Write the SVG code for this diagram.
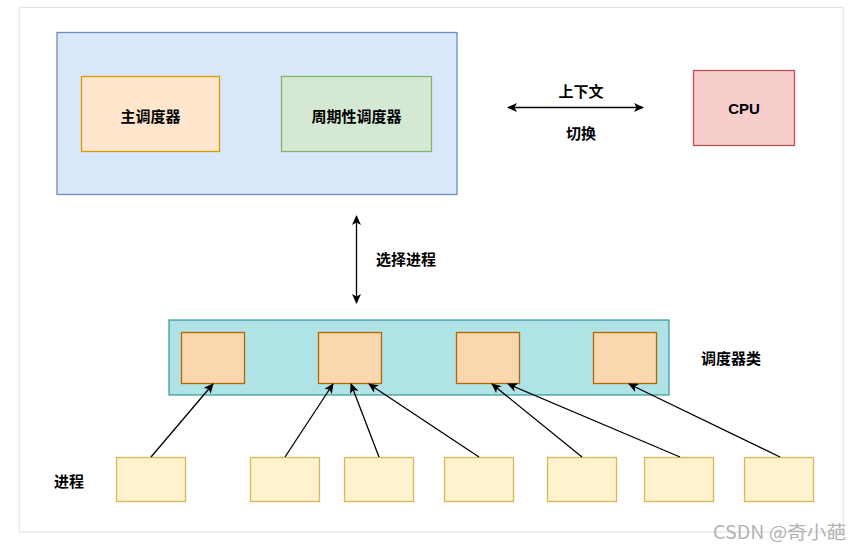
<svg xmlns="http://www.w3.org/2000/svg" width="862" height="548" viewBox="0 0 862 548">
<defs>
<style>
.lbl{font-family:"Noto Sans CJK SC","Liberation Sans",sans-serif;font-size:15px;font-weight:bold;fill:#000;text-anchor:middle;dominant-baseline:central}
.con{stroke:#000;stroke-width:1.3;fill:none}
.slot{fill:#fad7ac;stroke:#b46504;stroke-width:1.3}
.proc{fill:#fff2cc;stroke:#d6b656;stroke-width:1.3}
</style>
<marker id="ah" viewBox="0 0 10 9" refX="9" refY="4.5" markerWidth="10" markerHeight="9" markerUnits="userSpaceOnUse" orient="auto-start-reverse">
<path d="M0,0 L10,4.5 L0,9 L2.5,4.5 Z" fill="#000"/>
</marker>
</defs>
<rect x="0" y="0" width="862" height="548" fill="#fff"/>
<rect x="19.5" y="7.5" width="824" height="524.5" fill="#fff" stroke="#e4e4e4" stroke-width="1.3"/>

<g id="container-top">
<rect x="57" y="32.5" width="400" height="162" fill="#dae8fc" stroke="#6c8ebf" stroke-width="1.3"/>
</g>
<g id="main-scheduler">
<rect x="81.5" y="76.5" width="138" height="75" fill="#ffe6cc" stroke="#d79b00" stroke-width="1.3"/>
<text class="lbl" x="150.5" y="115">主调度器</text>
</g>
<g id="periodic-scheduler">
<rect x="281.5" y="76.5" width="150" height="75" fill="#d5e8d4" stroke="#82b366" stroke-width="1.3"/>
<text class="lbl" x="356.5" y="115">周期性调度器</text>
</g>
<g id="cpu">
<rect x="693.5" y="70.5" width="101" height="75" fill="#f8cecc" stroke="#b85450" stroke-width="1.3"/>
<text class="lbl" x="744" y="108" style="font-family:'Liberation Sans',sans-serif">CPU</text>
</g>
<g id="context-switch-label">
<text class="lbl" x="581" y="90">上下文</text>
<text class="lbl" x="581" y="132">切换</text>
</g>
<g id="select-label">
<text class="lbl" x="406" y="258">选择进程</text>
</g>

<g id="scheduler-classes">
<rect x="169" y="320" width="500" height="75" fill="#b0e3e6" stroke="#0e8088" stroke-width="1.3" stroke-opacity="0.75"/>
</g>
<g id="slot1"><rect class="slot" x="181.5" y="332.5" width="63" height="51"/></g>
<g id="slot2"><rect class="slot" x="318.5" y="332.5" width="63" height="51"/></g>
<g id="slot3"><rect class="slot" x="456.5" y="332.5" width="63" height="51"/></g>
<g id="slot4"><rect class="slot" x="593.5" y="332.5" width="63" height="51"/></g>
<g id="scheduler-class-label"><text class="lbl" x="731" y="357">调度器类</text></g>

<g id="proc-label"><text class="lbl" x="69" y="480">进程</text></g>
<g id="p1"><rect class="proc" x="116.5" y="457.5" width="69" height="44"/></g>
<g id="p2"><rect class="proc" x="250.5" y="457.5" width="69" height="44"/></g>
<g id="p3"><rect class="proc" x="344.5" y="457.5" width="69" height="44"/></g>
<g id="p4"><rect class="proc" x="444.5" y="457.5" width="69" height="44"/></g>
<g id="p5"><rect class="proc" x="547.5" y="457.5" width="69" height="44"/></g>
<g id="p6"><rect class="proc" x="644.5" y="457.5" width="69" height="44"/></g>
<g id="p7"><rect class="proc" x="744.5" y="457.5" width="69" height="44"/></g>

<g id="connectors">
<line class="con" x1="508" y1="107.5" x2="643" y2="107.5" marker-start="url(#ah)" marker-end="url(#ah)"/>
<line class="con" x1="356.5" y1="216" x2="356.5" y2="303" marker-start="url(#ah)" marker-end="url(#ah)"/>
<line class="con" x1="151" y1="457" x2="213" y2="384" marker-end="url(#ah)"/>
<line class="con" x1="285" y1="457" x2="333" y2="384" marker-end="url(#ah)"/>
<line class="con" x1="379" y1="457" x2="351" y2="384" marker-end="url(#ah)"/>
<line class="con" x1="479" y1="457" x2="369" y2="384" marker-end="url(#ah)"/>
<line class="con" x1="582" y1="457" x2="492" y2="384" marker-end="url(#ah)"/>
<line class="con" x1="680" y1="457" x2="508" y2="384" marker-end="url(#ah)"/>
<line class="con" x1="780" y1="457" x2="629" y2="384" marker-end="url(#ah)"/>
</g>

<g id="watermark">
<text x="713" y="539" textLength="133" lengthAdjust="spacingAndGlyphs" style="font-family:'Noto Sans CJK SC','Liberation Sans',sans-serif;font-size:18px;fill:#a8a8a8;fill-opacity:0.9">CSDN @奇小葩</text>
</g>
</svg>
